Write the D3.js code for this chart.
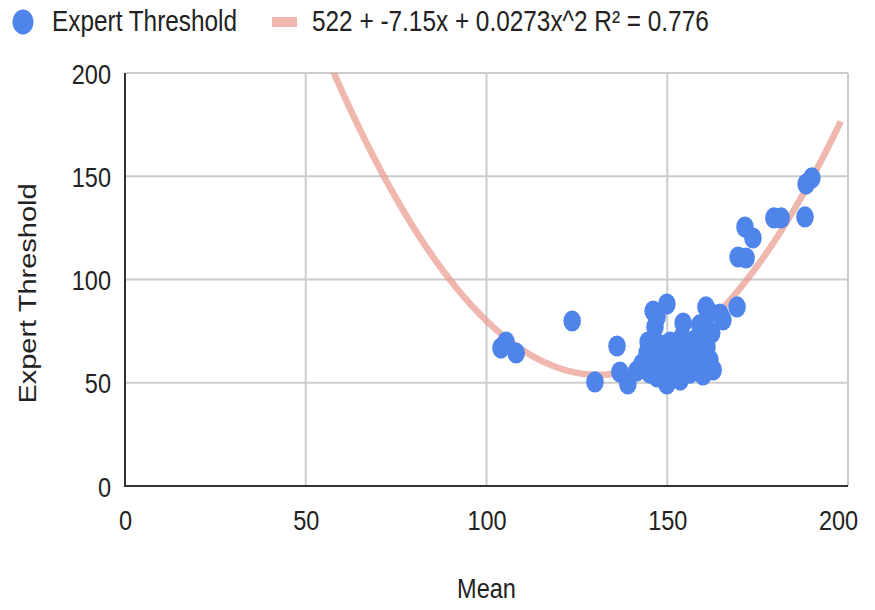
<!DOCTYPE html>
<html>
<head>
<meta charset="utf-8">
<script src="https://cdn.jsdelivr.net/npm/d3@7"></script>
<style>
  body { margin: 0; background: #fff; }
  text { font-family: "Liberation Sans", Arial, sans-serif; fill: #222; }
</style>
</head>
<body>
<svg id="chart" width="875" height="610"></svg>
<script>
// Scatter series: mean score (x) against expert threshold (y)
const meanValues = [
  104.0, 105.4, 108.2, 123.7, 130.0, 136.1, 136.9, 139.1, 141.6, 143.0,
  144.4, 144.7, 146.1, 146.6, 147.2, 146.1, 149.9, 147.2, 149.9, 149.9,
  150.8, 150.8, 152.7, 154.1, 154.4, 155.5, 156.3, 158.2, 159.9, 159.9,
  161.0, 160.4, 161.8, 162.7, 161.8, 160.7, 164.6, 165.4, 169.3, 169.6,
  171.8, 171.5, 173.7, 179.5, 181.5, 188.1, 188.4, 190.0, 148.0, 152.1,
  156.3, 149.4, 153.6, 157.6, 159.0, 154.9, 145.2, 148.0, 162.3, 159.0
];
const expertThreshold = [
  66.8, 69.7, 64.4, 79.9, 50.4, 67.8, 55.2, 49.4, 55.7, 59.1,
  64.4, 69.7, 59.6, 77.0, 81.8, 84.7, 88.1, 52.8, 49.4, 67.3,
  69.7, 61.0, 54.7, 72.2, 78.9, 67.3, 54.7, 59.6, 72.2, 53.8,
  67.3, 61.0, 61.0, 56.2, 83.8, 86.7, 83.3, 80.4, 86.7, 110.9,
  110.4, 125.4, 120.1, 129.8, 129.8, 130.3, 146.2, 149.2, 68.3, 63.4,
  63.4, 56.2, 51.3, 70.7, 65.9, 58.6, 54.7, 62.0, 74.1, 78.0
];

// Axis ticks
const xTicks = [0, 50, 100, 150, 200];
const yTicks = [0, 50, 100, 150, 200];

// Polynomial trendline: c0 + c1*x + c2*x^2
const trendCoef = [522, -7.15, 0.0273];
const trendXMax = 198;

const seriesName = "Expert Threshold";
const trendLabel = "522 + -7.15x + 0.0273x^2 R\u00B2 = 0.776";
const xTitle = "Mean";
const yTitle = "Expert Threshold";

// Layout
const W = 875, H = 610;
const plot = { left: 125, right: 848, top: 73, bottom: 486 };
const squeeze = 0.84;           // horizontal condensing of the text
const pointColor = "#4f84ea";
const trendColor = "#e8998c";

const svg = d3.select("#chart");

const x = d3.scaleLinear().domain([0, 200]).range([plot.left, plot.right]);
const y = d3.scaleLinear().domain([0, 200]).range([plot.bottom, plot.top]);

function condense(sel) {
  sel.each(function () {
    const w = this.getComputedTextLength();
    this.setAttribute("textLength", w * squeeze);
    this.setAttribute("lengthAdjust", "spacingAndGlyphs");
  });
}

// Gridlines
const grid = svg.append("g");
grid.selectAll("line.h").data(yTicks.filter(d => d > 0)).join("line")
  .attr("x1", plot.left).attr("x2", plot.right)
  .attr("y1", d => y(d)).attr("y2", d => y(d))
  .attr("stroke", "#cccccc").attr("stroke-width", 2);
grid.selectAll("line.v").data(xTicks.filter(d => d > 0)).join("line")
  .attr("x1", d => x(d)).attr("x2", d => x(d))
  .attr("y1", plot.top).attr("y2", plot.bottom)
  .attr("stroke", "#cccccc").attr("stroke-width", 2);

// Axis labels via d3 axes, with lines removed
const yAxis = svg.append("g")
  .attr("transform", `translate(${plot.left},0)`)
  .call(d3.axisLeft(y).tickValues(yTicks).tickSize(0).tickPadding(14).tickFormat(d3.format("d")));
yAxis.select(".domain").remove();
yAxis.selectAll("text")
  .attr("font-size", 28).attr("font-family", "Liberation Sans, Arial, sans-serif")
  .attr("fill", "#222").attr("dy", "0.36em")
  .call(condense);

const xAxis = svg.append("g")
  .attr("transform", `translate(0,${plot.bottom})`)
  .call(d3.axisBottom(x).tickValues(xTicks).tickSize(0).tickPadding(0).tickFormat(d3.format("d")));
xAxis.select(".domain").remove();
xAxis.selectAll("text")
  .attr("font-size", 28).attr("font-family", "Liberation Sans, Arial, sans-serif")
  .attr("fill", "#222").attr("y", 44).attr("dy", 0)
  .call(condense);
xAxis.selectAll(".tick").filter(d => d === 200).select("text").attr("dx", -10);

// Trendline, clipped to the plot area, beneath the points
svg.append("clipPath").attr("id", "plotClip")
  .append("rect")
  .attr("x", plot.left).attr("y", plot.top)
  .attr("width", plot.right - plot.left).attr("height", plot.bottom - plot.top);

const trend = v => trendCoef[0] + trendCoef[1] * v + trendCoef[2] * v * v;
const trendXs = d3.range(0, trendXMax + 0.001, 0.5);
svg.append("path")
  .datum(trendXs)
  .attr("clip-path", "url(#plotClip)")
  .attr("d", d3.line().x(v => x(v)).y(v => y(trend(v))))
  .attr("fill", "none")
  .attr("stroke", trendColor).attr("stroke-opacity", 0.7)
  .attr("stroke-width", 6.5).attr("stroke-linecap", "butt");

// Axis lines
svg.append("line")
  .attr("x1", plot.left).attr("x2", plot.left)
  .attr("y1", plot.top).attr("y2", plot.bottom + 1)
  .attr("stroke", "#333").attr("stroke-width", 2);
svg.append("line")
  .attr("x1", plot.left - 1).attr("x2", plot.right)
  .attr("y1", plot.bottom).attr("y2", plot.bottom)
  .attr("stroke", "#333").attr("stroke-width", 2);

// Points
const pts = meanValues.map((m, i) => ({ x: m, y: expertThreshold[i] }));
svg.append("g").selectAll("ellipse").data(pts).join("ellipse")
  .attr("cx", d => x(d.x)).attr("cy", d => y(d.y))
  .attr("rx", 8.8).attr("ry", 10.6)
  .attr("fill", pointColor);

// Legend
const legend = svg.append("g");
legend.append("ellipse")
  .attr("cx", 23).attr("cy", 22).attr("rx", 10.5).attr("ry", 12.5)
  .attr("fill", pointColor);
legend.append("text")
  .attr("x", 52).attr("y", 31).attr("font-size", 29)
  .text(seriesName).call(condense);
legend.append("rect")
  .attr("x", 272).attr("y", 17).attr("width", 25).attr("height", 10)
  .attr("fill", trendColor).attr("fill-opacity", 0.7);
legend.append("text")
  .attr("x", 312).attr("y", 31).attr("font-size", 29)
  .text(trendLabel).call(condense);

// Axis titles
svg.append("text")
  .attr("x", (plot.left + plot.right) / 2).attr("y", 598)
  .attr("text-anchor", "middle").attr("font-size", 28)
  .text(xTitle).call(condense);

svg.append("text")
  .attr("transform", `translate(36,${(plot.top + plot.bottom) / 2 + 14}) scale(${squeeze},1) rotate(-90)`)
  .attr("text-anchor", "middle").attr("font-size", 29)
  .text(yTitle);
</script>
</body>
</html>
